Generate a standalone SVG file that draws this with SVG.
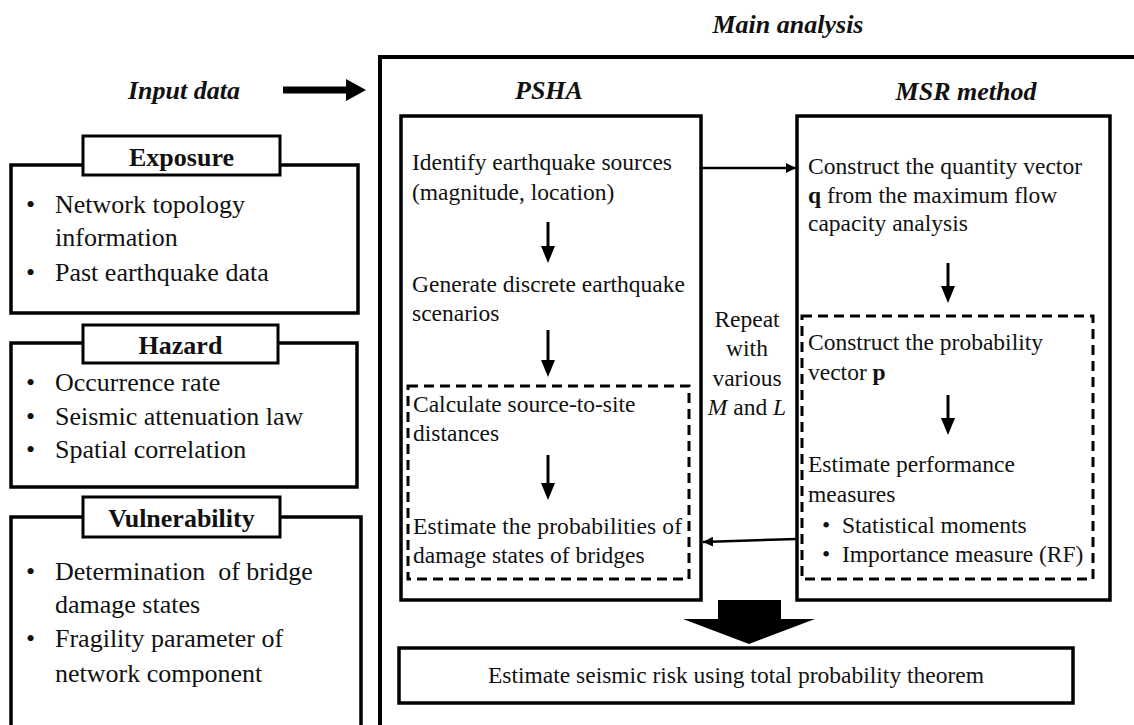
<svg xmlns="http://www.w3.org/2000/svg" width="1134" height="725" viewBox="0 0 1134 725">
<style>
  text { font-family: 'Liberation Serif', 'DejaVu Serif', serif; fill: #111; }
  .t { font-size: 23.5px; }
  .l { font-size: 26px; }
  .h { font-size: 26px; font-weight: bold; }
  .hi { font-size: 26px; font-weight: bold; font-style: italic; }
  .box { fill: none; stroke: #000; stroke-width: 3.5; }
  .lab { fill: #fff; stroke: #000; stroke-width: 3; }
  .dash { fill: none; stroke: #000; stroke-width: 3; stroke-dasharray: 10 6; }
  .ln { fill: none; stroke: #000; stroke-width: 2.5; }
  .vl { fill: none; stroke: #000; stroke-width: 3; }
</style>
<defs>
  <marker id="ah" markerWidth="10" markerHeight="10" refX="10" refY="5" orient="auto" markerUnits="userSpaceOnUse" viewBox="0 0 10 10">
    <path d="M0,0 L10,5 L0,10 z" fill="#000"/>
  </marker>
</defs>
<rect width="1134" height="725" fill="#fff"/>

<g font-family="Liberation Serif, DejaVu Serif, serif">
<!-- Titles -->
<text class="hi" x="788" y="33" text-anchor="middle">Main analysis</text>
<text class="hi" x="184" y="99" text-anchor="middle">Input data</text>
<text class="hi" x="549" y="99" text-anchor="middle">PSHA</text>
<text class="hi" x="966" y="100" text-anchor="middle">MSR method</text>

<!-- Main analysis frame -->
<g id="main-frame">
  <path d="M380,730 V57 H1140" fill="none" stroke="#000" stroke-width="4"/>
</g>

<!-- Exposure -->
<g id="exposure">
  <rect class="box" x="11" y="165" width="347" height="148"/>
  <rect class="lab" x="83" y="136" width="197" height="39"/>
  <text class="h" x="181.5" y="166" text-anchor="middle">Exposure</text>
  <text class="l" x="26" y="213">•</text>
  <text class="l" x="55" y="213">Network topology</text>
  <text class="l" x="55" y="246">information</text>
  <text class="l" x="26" y="281">•</text>
  <text class="l" x="55" y="281">Past earthquake data</text>
</g>

<!-- Hazard -->
<g id="hazard">
  <rect class="box" x="11" y="343" width="346" height="144"/>
  <rect class="lab" x="83" y="325" width="195" height="38"/>
  <text class="h" x="180.5" y="354" text-anchor="middle">Hazard</text>
  <text class="l" x="26" y="391">•</text>
  <text class="l" x="55" y="391">Occurrence rate</text>
  <text class="l" x="26" y="425">•</text>
  <text class="l" x="55" y="425">Seismic attenuation law</text>
  <text class="l" x="26" y="458">•</text>
  <text class="l" x="55" y="458">Spatial correlation</text>
</g>

<!-- Vulnerability -->
<g id="vulnerability">
  <path class="box" d="M11,730 V517 H361 V730"/>
  <rect class="lab" x="83" y="497" width="197" height="40"/>
  <text class="h" x="181.5" y="527" text-anchor="middle">Vulnerability</text>
  <text class="l" x="26" y="580">•</text>
  <text class="l" x="55" y="580" style="white-space:pre" xml:space="preserve">Determination  of bridge</text>
  <text class="l" x="55" y="613">damage states</text>
  <text class="l" x="26" y="647">•</text>
  <text class="l" x="55" y="647">Fragility parameter of</text>
  <text class="l" x="55" y="682">network component</text>
</g>

<!-- PSHA box -->
<g id="psha">
  <rect class="box" x="401" y="116" width="300" height="484"/>
  <text class="t" x="412" y="170" textLength="260" lengthAdjust="spacing">Identify earthquake sources</text>
  <text class="t" x="412" y="200">(magnitude, location)</text>
  <text class="t" x="412" y="292" textLength="273" lengthAdjust="spacing">Generate discrete earthquake</text>
  <text class="t" x="412" y="321">scenarios</text>
</g>
<g id="psha-dashed">
  <rect class="dash" x="408" y="386" width="281" height="193"/>
  <text class="t" x="413" y="412">Calculate source-to-site</text>
  <text class="t" x="413" y="441">distances</text>
  <text class="t" x="413" y="534" textLength="269" lengthAdjust="spacing">Estimate the probabilities of</text>
  <text class="t" x="413" y="563">damage states of bridges</text>
</g>

<!-- MSR box -->
<g id="msr">
  <rect class="box" x="797" y="116" width="313" height="484"/>
  <text class="t" x="808" y="174" textLength="274" lengthAdjust="spacing">Construct the quantity vector</text>
  <text class="t" x="808" y="203"><tspan font-weight="bold">q</tspan> from the maximum flow</text>
  <text class="t" x="808" y="231">capacity analysis</text>
</g>
<g id="msr-dashed">
  <rect class="dash" x="802" y="316" width="291" height="263"/>
  <text class="t" x="808" y="350">Construct the probability</text>
  <text class="t" x="808" y="380">vector <tspan font-weight="bold">p</tspan></text>
  <text class="t" x="808" y="472">Estimate performance</text>
  <text class="t" x="808" y="502">measures</text>
  <text class="t" x="822" y="533">•</text>
  <text class="t" x="842" y="533">Statistical moments</text>
  <text class="t" x="822" y="562">•</text>
  <text class="t" x="842" y="562">Importance measure (RF)</text>
</g>

<!-- Repeat label -->
<g id="repeat">
  <text class="t" x="747" y="327" text-anchor="middle">Repeat</text>
  <text class="t" x="747" y="356" text-anchor="middle">with</text>
  <text class="t" x="747" y="386" text-anchor="middle">various</text>
  <text class="t" x="747" y="415" text-anchor="middle"><tspan font-style="italic">M</tspan> and <tspan font-style="italic">L</tspan></text>
</g>

<!-- Result box -->
<g id="result">
  <rect class="box" x="399" y="648" width="674" height="55"/>
  <text class="t" x="736" y="683" text-anchor="middle">Estimate seismic risk using total probability theorem</text>
</g>
</g>

<!-- Connectors -->
<g id="connectors">
  <line x1="283" y1="90" x2="348" y2="90" stroke="#000" stroke-width="7"/>
  <path d="M346,79 L366,90 L346,101 z" fill="#000"/>
  <line class="ln" x1="702" y1="168" x2="796" y2="168" marker-end="url(#ah)"/>
  <line class="ln" x1="797" y1="539" x2="703" y2="542" marker-end="url(#ah)"/>
  <line class="vl" x1="548" y1="222" x2="548" y2="248"/>
  <path d="M541,246 L555,246 L548,263 z" fill="#000"/>
  <line class="vl" x1="548" y1="330" x2="548" y2="362"/>
  <path d="M541,360 L555,360 L548,377 z" fill="#000"/>
  <line class="vl" x1="548" y1="455" x2="548" y2="485"/>
  <path d="M541,483 L555,483 L548,500 z" fill="#000"/>
  <line class="vl" x1="948" y1="263" x2="948" y2="288"/>
  <path d="M941,286 L955,286 L948,303 z" fill="#000"/>
  <line class="vl" x1="948" y1="395" x2="948" y2="420"/>
  <path d="M941,418 L955,418 L948,435 z" fill="#000"/>
  <path d="M718,600 H781 V619 H815 L749,644 L683,619 H718 z" fill="#000"/>
</g>
</svg>
